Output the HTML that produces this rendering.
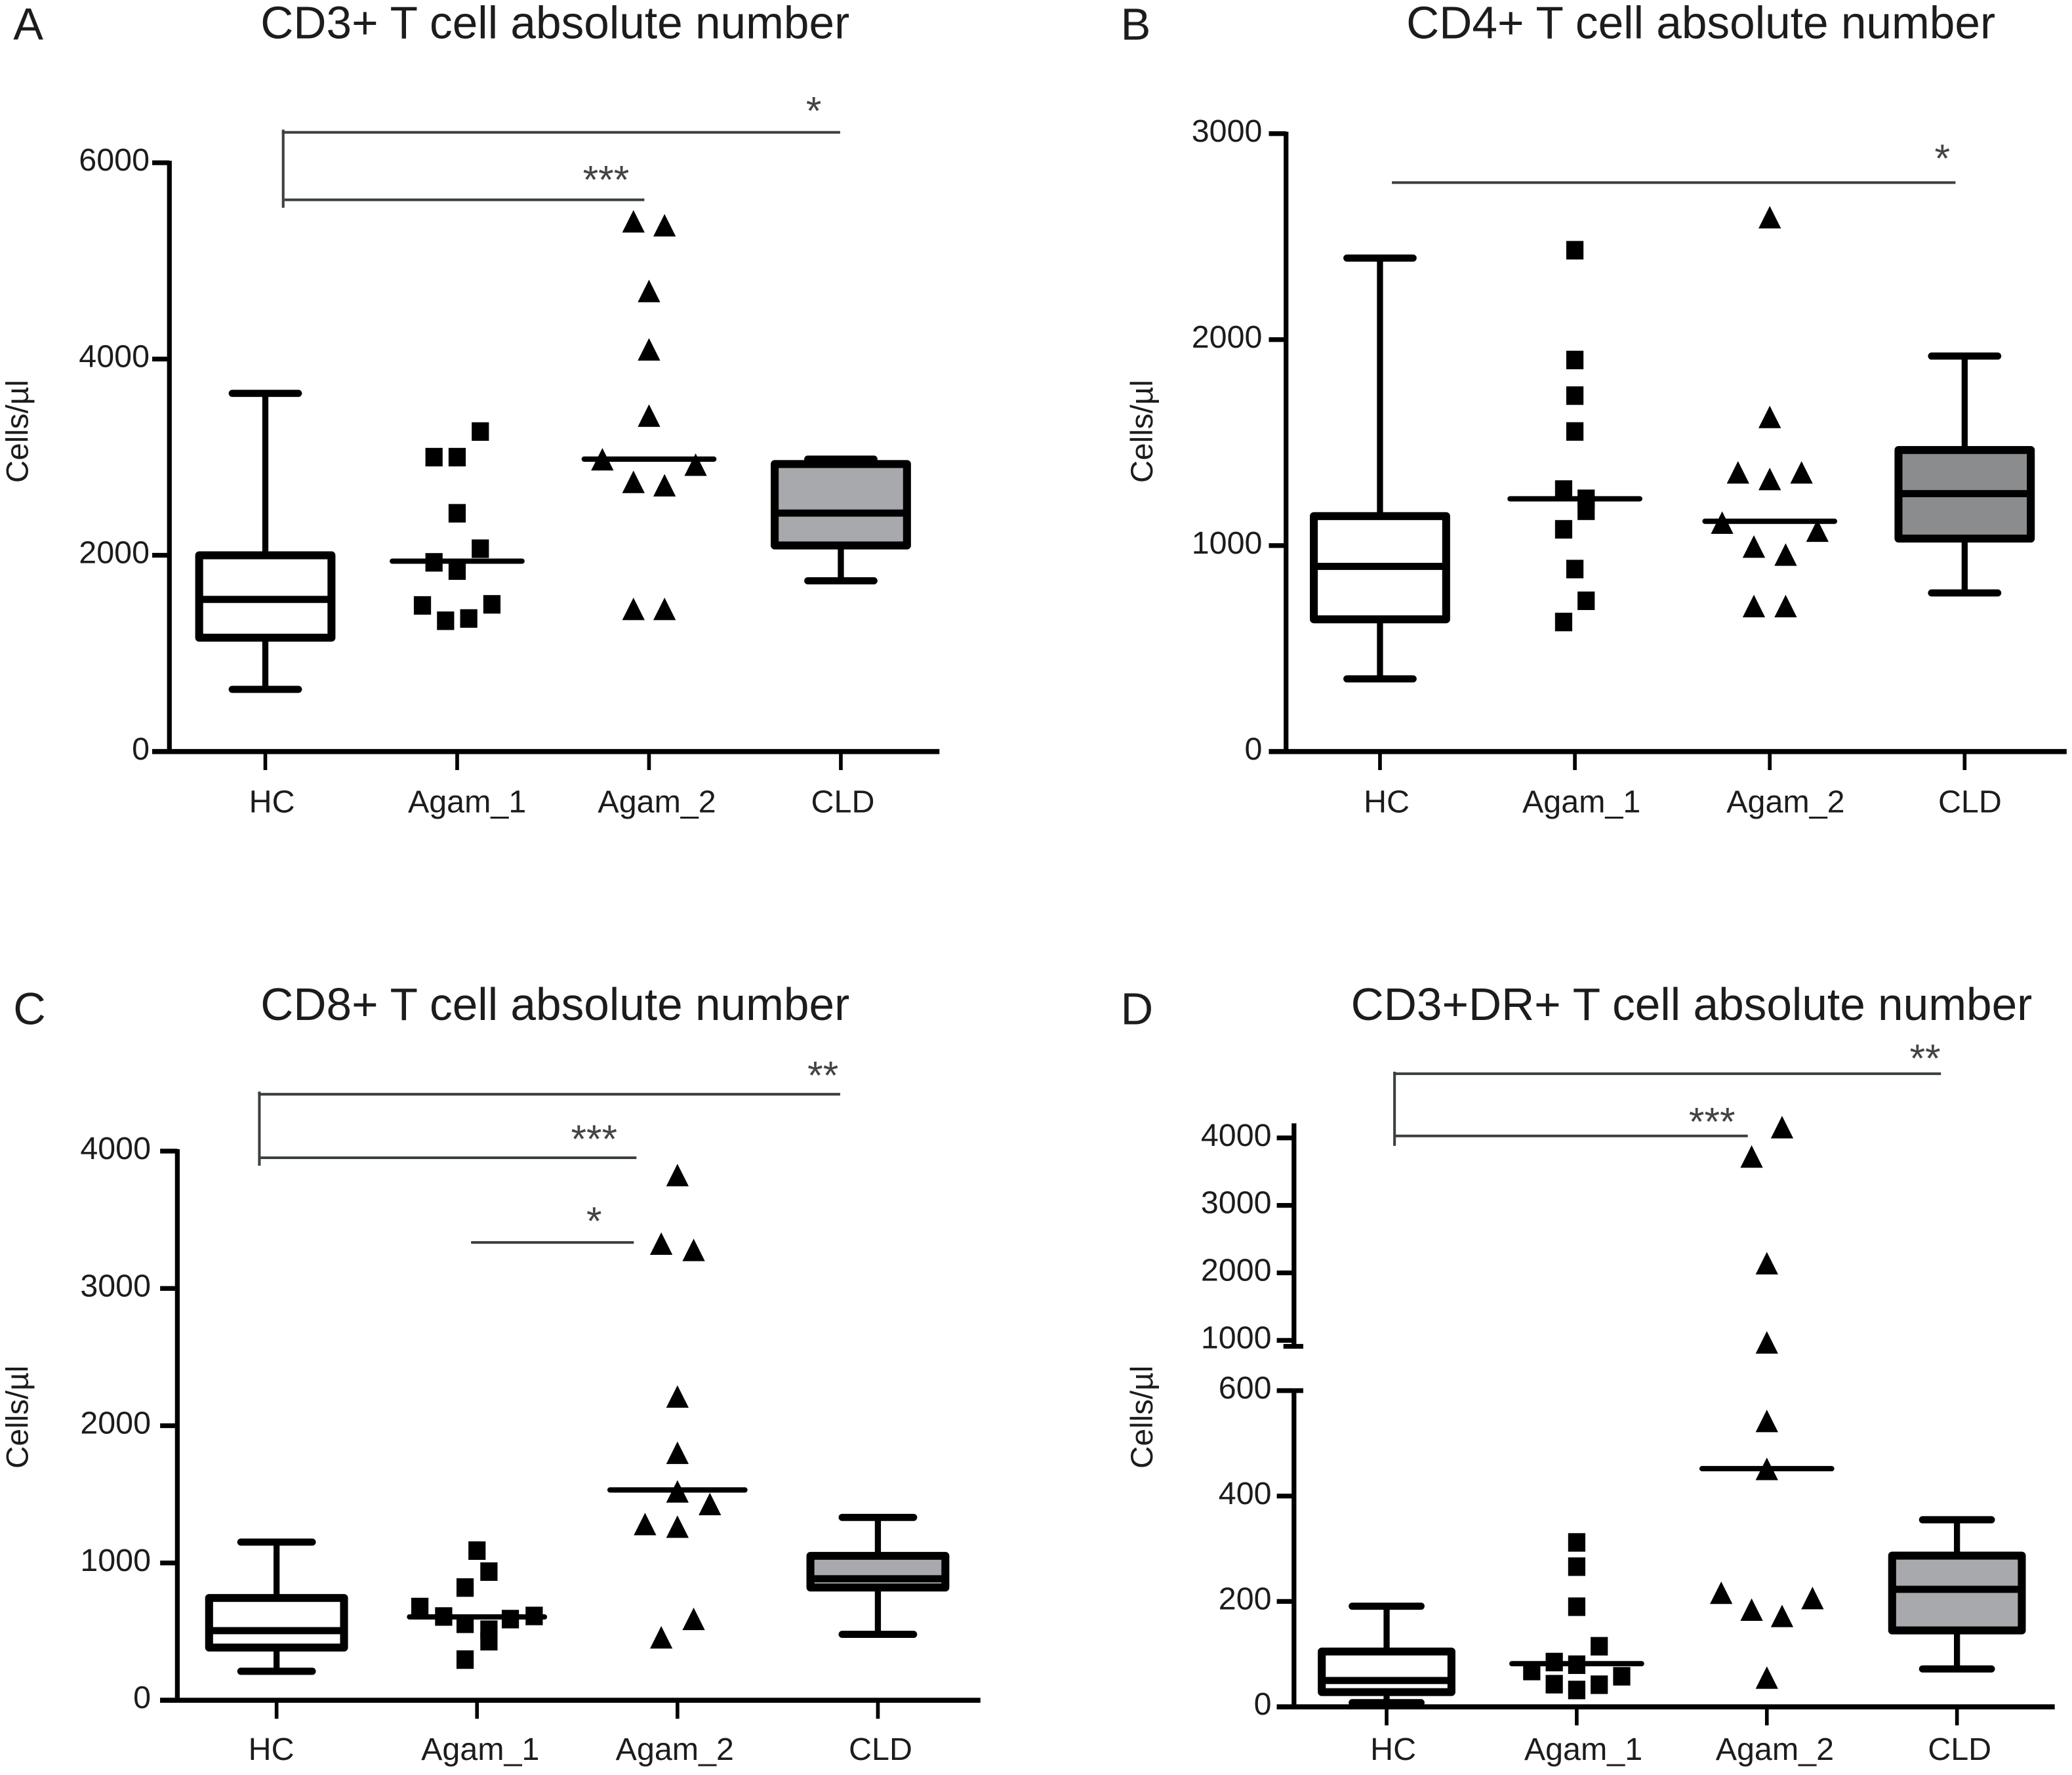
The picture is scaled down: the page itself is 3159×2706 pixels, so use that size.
<!DOCTYPE html>
<html lang="en">
<head>
<meta charset="utf-8">
<title>T cell absolute numbers</title>
<style>
  html, body { margin: 0; padding: 0; background: #fff; }
  #chart-svg { display: block; }
  text { font-family: "Liberation Sans", Arial, sans-serif; fill: #1c1c1c; }
  .panel-letter { font-size: 34px; }
  .panel-title { font-size: 34.4px; text-anchor: middle; }
  .star { font-size: 30px; text-anchor: middle; fill: #444; }
  .tick-label { font-size: 24px; text-anchor: end; }
  .cat-label { font-size: 24px; text-anchor: middle; }
  .y-title { font-size: 23.6px; text-anchor: middle; }
</style>
</head>
<body>
<svg id="chart-svg" xmlns="http://www.w3.org/2000/svg" width="3159" height="2706" viewBox="0 0 1566 1341.5">
  <rect x="0" y="0" width="1566" height="1341.5" fill="#fff"/>

  <text class="panel-letter" x="10" y="30">A</text>
  <text class="panel-letter" x="847" y="30">B</text>
  <text class="panel-letter" x="10" y="774">C</text>
  <text class="panel-letter" x="847" y="774">D</text>

  <text class="panel-title" x="419.5" y="29">CD3+ T cell absolute number</text>
  <text class="panel-title" x="1285.5" y="29">CD4+ T cell absolute number</text>
  <text class="panel-title" x="419.5" y="771">CD8+ T cell absolute number</text>
  <text class="panel-title" x="1278.5" y="771">CD3+DR+ T cell absolute number</text>

  <text class="y-title" transform="translate(21 326) rotate(-90)">Cells/µl</text>
  <text class="y-title" transform="translate(871 326) rotate(-90)">Cells/µl</text>
  <text class="y-title" transform="translate(21 1071) rotate(-90)">Cells/µl</text>
  <text class="y-title" transform="translate(871 1071) rotate(-90)">Cells/µl</text>

  <g stroke="#3a3f3f" stroke-width="2" fill="none">
    <line x1="213" y1="100" x2="635" y2="100"/>
    <line x1="215" y1="151" x2="487" y2="151"/>
    <line x1="214" y1="98" x2="214" y2="157"/>
  </g>
  <text class="star" x="615" y="94">*</text>
  <text class="star" x="458" y="146">***</text>

  <g stroke="#3a3f3f" stroke-width="2" fill="none">
    <line x1="1052" y1="138" x2="1478" y2="138"/>
  </g>
  <text class="star" x="1468" y="130">*</text>

  <g stroke="#3a3f3f" stroke-width="2" fill="none">
    <line x1="195" y1="827" x2="635" y2="827"/>
    <line x1="197" y1="875" x2="481" y2="875"/>
    <line x1="196" y1="825" x2="196" y2="881"/>
    <line x1="356" y1="939" x2="479" y2="939"/>
  </g>
  <text class="star" x="622" y="823">**</text>
  <text class="star" x="449" y="871">***</text>
  <text class="star" x="449" y="933">*</text>

  <g stroke="#3a3f3f" stroke-width="2" fill="none">
    <line x1="1053" y1="811.5" x2="1467" y2="811.5"/>
    <line x1="1054" y1="858.5" x2="1321" y2="858.5"/>
    <line x1="1054" y1="810" x2="1054" y2="866"/>
  </g>
  <text class="star" x="1455" y="810">**</text>
  <text class="star" x="1294" y="858">***</text>
</svg>

<script>
// ---------- Data (cells/µl) ----------
const categories = ["HC", "Agam_1", "Agam_2", "CLD"];

const aTicks = [0, 2000, 4000, 6000];
const aHcBox = [634, 1160, 1550, 2000, 3650];     // low, q1, median, q3, high
const aCldBox = [1740, 2100, 2430, 2930, 2980];
const aAgam1Values = [3261, 3000, 3000, 2428, 2067, 1928, 1844, 1489, 1333, 1356, 1500];
const aAgam1Jitter = [1, -1, 0, 0, 1, -1, 0, -1.5, -0.5, 0.5, 1.5];
const aAgam1Median = 1940;
const aAgam2Values = [5390, 5350, 4680, 4085, 3410, 2965, 2910, 2735, 2700, 1440, 1440];
const aAgam2Jitter = [-0.5, 0.5, 0, 0, 0, -1.5, 1.5, -0.5, 0.5, -0.5, 0.5];
const aAgam2Median = 2980;

const bTicks = [0, 1000, 2000, 3000];
const bHcBox = [353, 642, 899, 1143, 2396];
const bCldBox = [770, 1034, 1252, 1464, 1920];
const bAgam1Values = [2434, 1901, 1728, 1554, 1272, 1227, 1169, 1079, 886, 732, 629];
const bAgam1Jitter = [0, 0, 0, 0, -0.5, 0.5, 0.5, -0.5, 0, 0.5, -0.5];
const bAgam1Median = 1227;
const bAgam2Values = [2588, 1618, 1349, 1317, 1349, 1105, 1066, 989, 950, 700, 700];
const bAgam2Jitter = [0, 0, -1, 0, 1, -1.5, 1.5, -0.5, 0.5, -0.5, 0.5];
const bAgam2Median = 1118;

const cTicks = [0, 1000, 2000, 3000, 4000];
const cHcBox = [211, 384, 507, 745, 1152];
const cCldBox = [480, 821, 885, 1052, 1332];
const cAgam1Values = [1090, 937, 821, 679, 610, 557, 514, 430, 591, 614, 296];
const cAgam1Jitter = [0, 0.5, -0.5, -2.4, -1.4, -0.5, 0.5, 0.5, 1.4, 2.4, -0.5];
const cAgam1Median = 607;
const cAgam2Values = [3816, 3317, 3271, 2203, 1793, 1512, 1420, 1274, 1255, 583, 449];
const cAgam2Jitter = [0, -0.5, 0.5, 0, 0, 0, 1, -1, 0, 0.5, -0.5];
const cAgam2Median = 1532;

const dTicks = [0, 200, 400, 600, 1000, 2000, 3000, 4000];
const dHcBox = [8, 28, 50, 105, 191];
const dCldBox = [72, 145, 223, 287, 355];
const dAgam1Values = [312, 266, 190, 115, 85, 80, 68, 58, 43, 42, 32];
const dAgam1Jitter = [0, 0, 0, 1, -1, 0, -2, 2, -1, 1, 0];
const dAgam1Median = 82;
const dAgam2Values = [4140, 3705, 2124, 950, 540, 449, 214, 204, 182, 170, 53];
const dAgam2Jitter = [0.5, -0.5, 0, 0, 0, 0, -1.5, 1.5, -0.5, 0.5, 0];
const dAgam2Median = 452;

// ---------- Axis functions ----------
function linearY(y0, yTopPos, vTop) {
  return function (v) { return y0 - (y0 - yTopPos) * v / vTop; };
}
function brokenY(v) {
  if (v <= 600) return 1290 - (1290 - 1051) * v / 600;
  return 1013 - 51 * (v - 1000) / 1000;
}
function categoryX(first, step) {
  return function (i) { return first + i * step; };
}

const svgNS = "http://www.w3.org/2000/svg";
const root = document.getElementById("chart-svg");

function mk(tag, attrs, parent) {
  const e = document.createElementNS(svgNS, tag);
  for (const k in attrs) e.setAttribute(k, attrs[k]);
  parent.appendChild(e);
  return e;
}
function segment(parent, x1, y1, x2, y2, width, cap) {
  return mk("line", { x1: x1, y1: y1, x2: x2, y2: y2, stroke: "#000", "stroke-width": width, "stroke-linecap": cap || "butt" }, parent);
}

function drawAxes(g, p) {
  const yAxisGroup = mk("g", {}, g);
  
  
  if (p.broken) {
    const upper = segment(yAxisGroup, p.axisX, 849, p.axisX, 1017, 3.6);
    
    
    const breakCap = segment(yAxisGroup, p.axisX - 8, 1017.5, p.axisX + 7, 1017.5, 3.6);
    
    
    const lower = segment(yAxisGroup, p.axisX, 1051, p.axisX, p.y(0), 3.6);
    
    
    const topCap = segment(yAxisGroup, p.axisX, 1051, p.axisX + 7, 1051, 3.6);
    
    
  } else {
    const line = segment(yAxisGroup, p.axisX, p.y(p.ticks[p.ticks.length - 1]) - 1.5, p.axisX, p.y(0), 3.6);
    
    
  }
  p.ticks.forEach(function (t) {
    const yy = p.y(t);
    const tick = segment(yAxisGroup, p.axisX - 13, yy, p.axisX, yy, 3.6);
    
    
    const label = mk("text", { class: "tick-label", x: p.axisX - p.labelGap, y: yy + 6 }, yAxisGroup);
    label.textContent = String(t);
    
    
  });

  const xAxisGroup = mk("g", {}, g);
  
  
  const xLine = segment(xAxisGroup, p.axisX - 13, p.y(0), p.xEnd, p.y(0), 3.8);
  
  
  categories.forEach(function (c, i) {
    const tick = segment(xAxisGroup, p.x(i), p.y(0), p.x(i), p.y(0) + 14, 2.8);
    
    
    const label = mk("text", { class: "cat-label", x: p.x(i) + p.labelShift[i], y: p.y(0) + p.labelDrop }, xAxisGroup);
    label.textContent = c;
    
    
  });
}

function drawBox(g, p, i, stats, fill) {
  const cx = p.x(i);
  const [low, q1, med, q3, high] = stats;
  const box = mk("g", {}, g);
  
  
  const upperWhisker = segment(box, cx, p.y(high), cx, p.y(q3), 4.6);
  
  
  const lowerWhisker = segment(box, cx, p.y(q1), cx, p.y(low), 4.6);
  
  
  const highCap = segment(box, cx - p.capHalf, p.y(high), cx + p.capHalf, p.y(high), 5.4, "round");
  
  
  const lowCap = segment(box, cx - p.capHalf, p.y(low), cx + p.capHalf, p.y(low), 5.4, "round");
  
  
  const rect = mk("rect", {
    x: cx - p.boxHalf, y: p.y(q3), width: p.boxHalf * 2, height: p.y(q1) - p.y(q3),
    fill: fill, stroke: "#000", "stroke-width": 6, "stroke-linejoin": "round"
  }, box);
  
  
  const median = segment(box, cx - p.boxHalf, p.y(med), cx + p.boxHalf, p.y(med), 5.4);
  
  
}

function drawScatter(g, p, i, values, jitter, medianValue, shape) {
  const cx = p.x(i);
  const group = mk("g", {}, g);
  
  
  const slot = shape === "square" ? p.squareSlot : p.triangleSlot;
  values.forEach(function (v, n) {
    const px = cx + jitter[n] * slot;
    const py = p.y(v);
    if (shape === "square") {
      const s = mk("rect", { x: px - 6.5, y: py - 7, width: 13, height: 14, fill: "#000" }, group);
      
      
    } else {
      const pts = [px, py - 9.5, px + 8.5, py + 7.5, px - 8.5, py + 7.5].join(" ");
      const t = mk("polygon", { points: pts, fill: "#000" }, group);
      
      
    }
  });
  const med = segment(group, cx - p.medianHalf, p.y(medianValue), cx + p.medianHalf, p.y(medianValue), 4, "round");
  
  
}

function drawPanel(name, p, d) {
  const g = mk("g", {}, root);
  
  
  drawBox(g, p, 0, d.hc, "#fff");
  drawScatter(g, p, 1, d.a1, d.a1j, d.a1m, "square");
  drawScatter(g, p, 2, d.a2, d.a2j, d.a2m, "triangle");
  drawBox(g, p, 3, d.cld, d.cldFill);
  drawAxes(g, p);
}

drawPanel("panel-a-cd3-chart", {
  axisX: 128, xEnd: 710, x: categoryX(200.5, 145), y: linearY(568, 123, 6000), ticks: aTicks,
  boxHalf: 50, capHalf: 25, medianHalf: 49, squareSlot: 17.5, triangleSlot: 23.5,
  labelShift: [5, 7.5, 6, 1.5], labelDrop: 46, labelGap: 15
}, { hc: aHcBox, cld: aCldBox, cldFill: "#a7a9ac", a1: aAgam1Values, a1j: aAgam1Jitter, a1m: aAgam1Median, a2: aAgam2Values, a2j: aAgam2Jitter, a2m: aAgam2Median });

drawPanel("panel-b-cd4-chart", {
  axisX: 972, xEnd: 1562, x: categoryX(1043, 147.3), y: linearY(568, 101, 3000), ticks: bTicks,
  boxHalf: 50, capHalf: 25, medianHalf: 49, squareSlot: 17, triangleSlot: 24,
  labelShift: [5, 5, 12, 4], labelDrop: 46, labelGap: 18
}, { hc: bHcBox, cld: bCldBox, cldFill: "#8a8c8e", a1: bAgam1Values, a1j: bAgam1Jitter, a1m: bAgam1Median, a2: bAgam2Values, a2j: bAgam2Jitter, a2m: bAgam2Median });

drawPanel("panel-c-cd8-chart", {
  axisX: 134, xEnd: 741, x: categoryX(209, 151.5), y: linearY(1285, 870, 4000), ticks: cTicks,
  boxHalf: 51, capHalf: 27, medianHalf: 51, squareSlot: 18, triangleSlot: 24.5,
  labelShift: [-4, 2.5, -2, 2], labelDrop: 45, labelGap: 20
}, { hc: cHcBox, cld: cCldBox, cldFill: "#a7a9ac", a1: cAgam1Values, a1j: cAgam1Jitter, a1m: cAgam1Median, a2: cAgam2Values, a2j: cAgam2Jitter, a2m: cAgam2Median });

drawPanel("panel-d-cd3dr-chart", {
  axisX: 978, xEnd: 1553, x: categoryX(1048, 143.7), y: brokenY, ticks: dTicks, broken: true,
  boxHalf: 49, capHalf: 26, medianHalf: 49, squareSlot: 17, triangleSlot: 23,
  labelShift: [5, 5, 6, 2], labelDrop: 40, labelGap: 17
}, { hc: dHcBox, cld: dCldBox, cldFill: "#a7a9ac", a1: dAgam1Values, a1j: dAgam1Jitter, a1m: dAgam1Median, a2: dAgam2Values, a2j: dAgam2Jitter, a2m: dAgam2Median });
</script>
</body>
</html>
